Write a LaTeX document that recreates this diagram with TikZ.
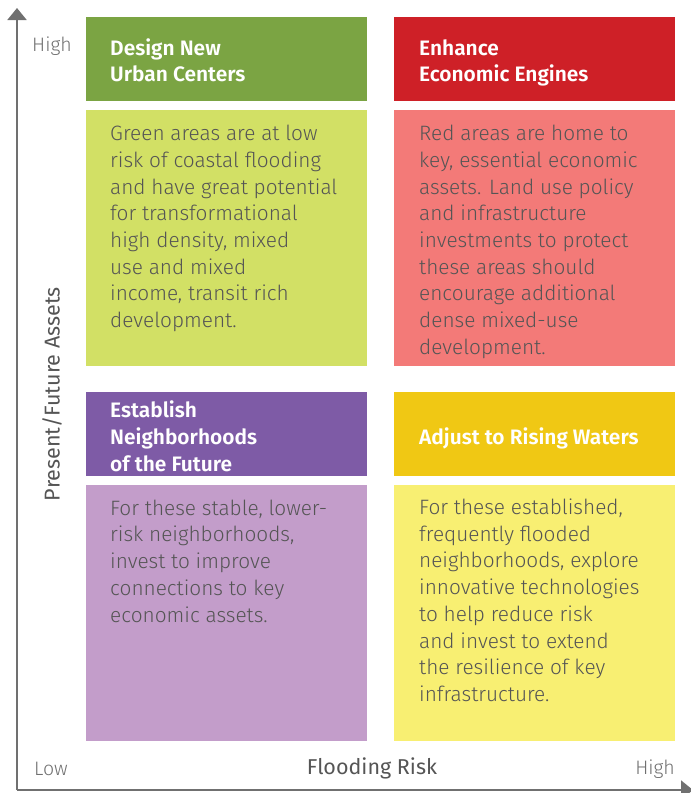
\documentclass[tikz,border=0pt]{standalone}
\usepackage{fontspec}
\setmainfont{Fira Sans}
\newfontfamily\lightfont{Fira Sans Light}
\newfontfamily\headfont{Fira Sans SemiBold}
\usetikzlibrary{arrows.meta}

\definecolor{axisgray}{HTML}{707070}
\definecolor{textgray}{HTML}{555555}
\definecolor{greenhead}{HTML}{7BA443}
\definecolor{greenbody}{HTML}{D2E065}
\definecolor{redhead}{HTML}{CE2027}
\definecolor{redbody}{HTML}{F37A78}
\definecolor{purplehead}{HTML}{7E5BA6}
\definecolor{purplebody}{HTML}{C39DCA}
\definecolor{yellowhead}{HTML}{F0C814}
\definecolor{yellowbody}{HTML}{F8EF72}

\tikzset{
  block/.style={draw=none, inner sep=0pt, outer sep=0pt, anchor=north west,
    minimum width=281pt},
  headbox/.style={block, minimum height=84pt},
  bodybox/.style={block, minimum height=256pt},
  % multi-line texts are placed by the baseline of their last line
  headtext/.style={anchor=base west, inner sep=0pt, align=left, text=white,
    font=\headfont\fontsize{20.9}{26.7}\selectfont},
  bodytext/.style={anchor=base west, inner sep=0pt, align=left, text=textgray,
    font=\lightfont\fontsize{20.8}{26.7}\selectfont},
  axislabel/.style={inner sep=0pt, text=axisgray,
    font=\lightfont\fontsize{19.5}{22}\selectfont},
  axistitle/.style={inner sep=0pt, text=textgray,
    font=\fontsize{21.5}{24}\selectfont},
  axisline/.style={draw=axisgray, line width=2pt,
    -{Triangle[width=19pt,length=12pt]}}
}

\begin{document}
\begin{tikzpicture}[x=1pt, y=-1pt]
  \useasboundingbox (0,0) rectangle (691,793);

  % axes
  \coordinate (origin) at (17,790);
  \coordinate (ytip) at (17,8);
  \coordinate (xtip) at (693,790);
  \draw[axisline] (origin) -- (ytip);
  \draw[axisline] (origin) -- (xtip);

  % quadrant blocks
  \node[headbox, fill=greenhead]  (gh) at (86,17)  {};
  \node[bodybox, fill=greenbody]  (gb) at (86,110) {};
  \node[headbox, fill=redhead]    (rh) at (394,17) {};
  \node[bodybox, fill=redbody]    (rb) at (394,110) {};
  \node[headbox, fill=purplehead] (ph) at (86,392) {};
  \node[bodybox, fill=purplebody] (pb) at (86,485) {};
  \node[headbox, fill=yellowhead] (yh) at (394,392) {};
  \node[bodybox, fill=yellowbody] (yb) at (394,485) {};

  % headings
  \node[headtext] (ght) at ([xshift=24pt,yshift=-64.7pt]gh.north west) {Design New\\Urban Centers};
  \node[headtext] (rht) at ([xshift=25pt,yshift=-64.7pt]rh.north west) {Enhance\\Economic Engines};
  \node[headtext] (pht) at ([xshift=24pt,yshift=-79.2pt]ph.north west) {Establish\\Neighborhoods\\of the Future};
  \node[headtext] (yht) at ([xshift=25pt,yshift=-52pt]yh.north west) {Adjust to Rising Waters};

  % descriptions
  \node[bodytext] (gbt) at ([xshift=24pt,yshift=-217.6pt]gb.north west)
    {Green areas are at low\\risk of coastal flooding\\and have great potential\\for transformational\\high density, mixed\\use and mixed\\income, transit rich\\development.};
  \node[bodytext] (rbt) at ([xshift=25pt,yshift=-244.3pt]rb.north west)
    {Red areas are home to\\key, essential economic\\assets. Land use policy\\and infrastructure\\investments to protect\\these areas should\\encourage additional\\dense mixed-use\\development.};
  \node[bodytext] (pbt) at ([xshift=24pt,yshift=-137pt]pb.north west)
    {For these stable, lower-\\risk neighborhoods,\\invest to improve\\connections to key\\economic assets.};
  \node[bodytext] (ybt) at ([xshift=25pt,yshift=-216.4pt]yb.north west)
    {For these established,\\frequently flooded\\neighborhoods, explore\\innovative technologies\\to help reduce risk\\and invest to extend\\the resilience of key\\infrastructure.};

  % axis labels
  \node[axislabel, anchor=west] (yhigh) at (32,46) {High};
  \node[axislabel, anchor=west] (xlow) at (34,769) {Low};
  \node[axislabel, anchor=east] (xhigh) at (675,769) {High};
  \node[axistitle] (xtitle) at (372,768) {Flooding Risk};
  \node[axistitle, rotate=90] (ytitle) at (52,394) {Present/Future Assets};
\end{tikzpicture}
\end{document}
